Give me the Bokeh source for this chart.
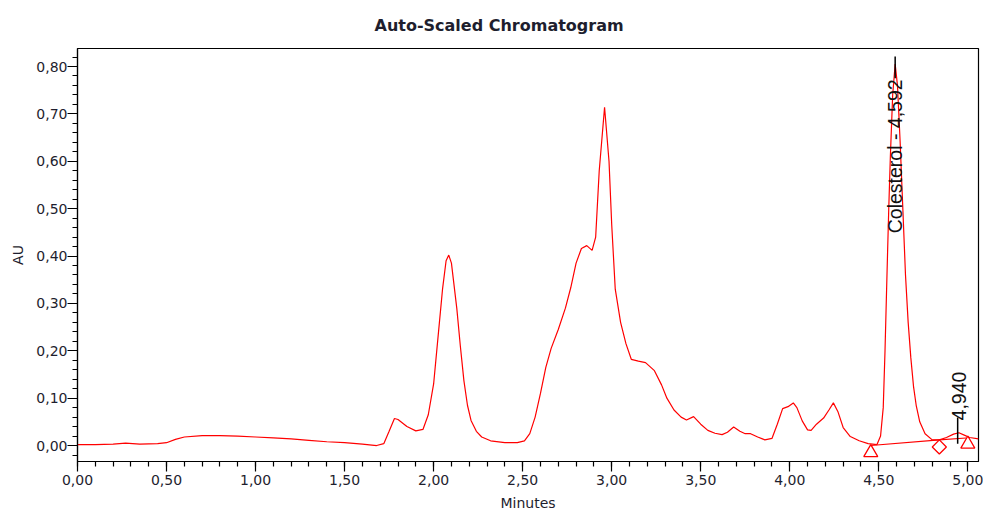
from bokeh.plotting import figure
from bokeh.models import Range1d, SingleIntervalTicker, CustomJSTickFormatter, ColumnDataSource
from bokeh.core.properties import value
from bokeh.embed import file_html
from bokeh.resources import INLINE
import math

# ---- data ----
minutes = [0.00, 0.10, 0.20, 0.27, 0.35, 0.45, 0.50, 0.55, 0.60, 0.70, 0.80, 0.90, 1.00, 1.10, 1.20,
           1.30, 1.40, 1.50, 1.60, 1.68, 1.72, 1.75, 1.78, 1.80, 1.85, 1.90, 1.94, 1.97, 2.00, 2.03,
           2.05, 2.07, 2.085, 2.10, 2.13, 2.15, 2.17, 2.19, 2.21, 2.24, 2.27, 2.32, 2.40, 2.47, 2.51,
           2.54, 2.57, 2.60, 2.63, 2.66, 2.70, 2.74, 2.77, 2.80, 2.83, 2.86, 2.89, 2.91, 2.93, 2.96,
           2.985, 3.00, 3.02, 3.05, 3.08, 3.11, 3.15, 3.19, 3.24, 3.28, 3.31, 3.35, 3.39, 3.42, 3.46,
           3.50, 3.54, 3.58, 3.62, 3.65, 3.685, 3.72, 3.75, 3.78, 3.82, 3.86, 3.90, 3.93, 3.96, 3.99,
           4.02, 4.04, 4.07, 4.10, 4.12, 4.15, 4.19, 4.22, 4.245, 4.27, 4.30, 4.34, 4.39, 4.44, 4.49,
           4.51, 4.525, 4.535, 4.546, 4.556, 4.565, 4.578, 4.592, 4.605, 4.62, 4.635, 4.65, 4.665, 4.68,
           4.695, 4.71, 4.73, 4.76, 4.80, 4.84, 4.88, 4.92, 4.95, 4.98, 5.01, 5.06]
au = [0.002, 0.002, 0.003, 0.005, 0.003, 0.004, 0.006, 0.013, 0.018, 0.021, 0.021, 0.020, 0.018, 0.016, 0.014,
      0.011, 0.008, 0.006, 0.003, 0.000, 0.004, 0.030, 0.057, 0.055, 0.040, 0.031, 0.034, 0.065, 0.130, 0.250,
      0.330, 0.390, 0.402, 0.385, 0.290, 0.210, 0.137, 0.085, 0.053, 0.030, 0.018, 0.010, 0.006, 0.006, 0.010,
      0.025, 0.060, 0.110, 0.165, 0.205, 0.245, 0.290, 0.333, 0.385, 0.416, 0.422, 0.412, 0.440, 0.580, 0.714,
      0.600, 0.467, 0.330, 0.260, 0.215, 0.182, 0.178, 0.175, 0.158, 0.128, 0.100, 0.075, 0.060, 0.054, 0.061,
      0.045, 0.032, 0.026, 0.023, 0.028, 0.039, 0.030, 0.025, 0.025, 0.018, 0.012, 0.015, 0.045, 0.078, 0.082,
      0.090, 0.080, 0.052, 0.033, 0.032, 0.045, 0.058, 0.075, 0.090, 0.072, 0.038, 0.019, 0.010, 0.004, 0.002,
      0.020, 0.080, 0.200, 0.360, 0.500, 0.610, 0.740, 0.805, 0.760, 0.640, 0.500, 0.360, 0.260, 0.185,
      0.125, 0.085, 0.050, 0.025, 0.012, 0.012, 0.017, 0.024, 0.027, 0.022, 0.017, 0.014]

baseline_x = [4.455, 4.84, 4.99]
baseline_y = [0.000, 0.012, 0.016]

tri_x = [4.455, 5.0]
tri_y = [-0.015, 0.003]
dia_x = [4.84]
dia_y = [-0.003]

peak_labels = ["Colesterol - 4,592", "4,940"]
peak_label_x = [4.592, 4.952]
peak_label_y = [0.448, 0.053]
tick_x0 = [4.592, 4.943]
tick_y0 = [0.775, 0.004]
tick_y1 = [0.821, 0.059]

FONT = "DejaVu Sans"
TXT = "#1e1e2e"

p = figure(width=983, height=513, output_backend="svg", toolbar_location=None,
           x_range=Range1d(0, 5.06), y_range=Range1d(-0.0337, 0.838),
           min_border_left=77, min_border_right=5, min_border_top=47, min_border_bottom=50,
           title="Auto-Scaled Chromatogram", x_axis_label="Minutes", y_axis_label="AU")

p.title.align = "left"
p.title.offset = 297
p.title.text_font = FONT
p.title.text_font_size = "16px"
p.title.text_font_style = "bold"
p.title.text_color = TXT
p.title.standoff = 27

p.xgrid.visible = False
p.ygrid.visible = False
p.outline_line_color = "black"
p.outline_line_width = 1.2
p.background_fill_color = "white"
p.border_fill_color = "white"

fmt = CustomJSTickFormatter(code="return tick.toFixed(2).replace('.', ',');")

p.xaxis.ticker = SingleIntervalTicker(interval=0.5, num_minor_ticks=5)
p.yaxis.ticker = SingleIntervalTicker(interval=0.1, num_minor_ticks=5)
for ax in (p.xaxis, p.yaxis):
    ax.formatter = fmt
    ax.axis_line_color = "black"
    ax.axis_line_width = 1.2
    ax.major_tick_line_color = "black"
    ax.minor_tick_line_color = "black"
    ax.major_tick_line_width = 1.2
    ax.minor_tick_line_width = 1.2
    ax.major_tick_in = 0
    ax.minor_tick_in = 0
    ax.major_tick_out = 10
    ax.minor_tick_out = 5
    ax.major_label_text_font = FONT
    ax.major_label_text_font_size = "14px"
    ax.major_label_text_color = TXT
    ax.axis_label_text_font = FONT
    ax.axis_label_text_font_size = "14px"
    ax.axis_label_text_font_style = "normal"
    ax.axis_label_text_color = TXT

p.yaxis.major_label_standoff = 0
p.yaxis.axis_label_standoff = 7
p.xaxis.major_label_standoff = 3
p.xaxis.axis_label_standoff = 7

p.line(minutes, au, line_color="#ff0000", line_width=1.2)
p.line(baseline_x, baseline_y, line_color="#ff0000", line_width=1.1)
p.scatter(tri_x, tri_y, marker="triangle", size=14, fill_color=None, line_color="#ff0000", line_width=1.3)
p.scatter(dia_x, dia_y, marker="square", size=10, angle=math.pi / 4, fill_color=None,
          line_color="#ff0000", line_width=1.3)

p.segment(x0=tick_x0, y0=tick_y0, x1=tick_x0, y1=tick_y1, line_color="black", line_width=1.5)
src = ColumnDataSource(dict(x=peak_label_x, y=peak_label_y, t=peak_labels))
p.text(x="x", y="y", text="t", source=src, angle=math.pi / 2, text_align="left", text_baseline="middle",
       text_font=value("Liberation Sans"), text_font_size="19.5px", text_color="#111111")

open("out.html", "w").write(file_html(p, INLINE))
